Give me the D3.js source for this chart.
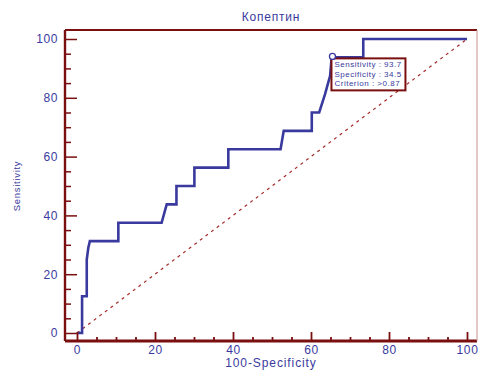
<!DOCTYPE html>
<html>
<head>
<meta charset="utf-8">
<script src="https://cdn.jsdelivr.net/npm/d3@7"></script>
<style>
  body { margin: 0; background: #fff; }
  text { font-family: "Liberation Sans", Arial, sans-serif; }
</style>
</head>
<body>
<div id="wrapper"></div>
<script>
// ROC curve points (100-Specificity, Sensitivity)
const rocX = [0, 1.3, 1.3, 2.5, 2.5, 2.9, 3.3, 10.6, 10.6, 21.7, 23.0, 25.5, 25.5, 30.1, 30.1, 38.8, 38.8, 52.2, 53.0, 60.2, 60.2, 62.1, 63.6, 64.9, 65.3, 65.5, 73.4, 73.4, 100]
const rocY = [0, 0, 12.5, 12.5, 25, 29, 31.25, 31.25, 37.5, 37.5, 43.75, 43.75, 50, 50, 56.25, 56.25, 62.5, 62.5, 68.75, 68.75, 75, 75, 81.25, 87.5, 93.75, 93.75, 93.75, 100, 100]
const majorTicks = [0, 20, 40, 60, 80, 100]
const minorTicks = d3.range(0, 101, 5).filter(v => v % 20 !== 0)
const cutPoint = [65.5, 93.75]
const boxLines = ["Sensitivity : 93.7", "Specificity : 34.5", "Criterion : >0.87"]
const title = "Копептин"
const xTitle = "100-Specificity"
const yTitle = "Sensitivity"

const width = 479
const height = 370
const axisColor = "#7a0f0f"
const blue = "#3a3a9e"

const frame = { left: 65, top: 30, right: 477, bottom: 341 }

const svg = d3.select("#wrapper")
    .append("svg")
    .attr("width", width)
    .attr("height", height)

const xScaler = d3.scaleLinear().domain([0, 100]).range([77, 467])
const yScaler = d3.scaleLinear().domain([0, 100]).range([333, 39])

// diagonal reference line
svg.append("line")
    .attr("x1", xScaler(0)).attr("y1", yScaler(0))
    .attr("x2", xScaler(100)).attr("y2", yScaler(100))
    .attr("stroke", "#a52a2a")
    .attr("stroke-width", 1.2)
    .attr("stroke-dasharray", "3 4")

// ROC curve
const points = rocX.map((d, i) => [d, rocY[i]])
const lineGen = d3.line()
    .x(d => xScaler(d[0]))
    .y(d => yScaler(d[1]))
svg.append("path")
    .datum(points)
    .attr("d", lineGen)
    .attr("fill", "none")
    .attr("stroke", blue)
    .attr("stroke-width", 2.6)

// y ticks (inward from left frame)
function yTicks(values, size) {
    const g = svg.append("g")
        .attr("transform", `translate(${frame.left},0)`)
        .call(d3.axisRight(yScaler).tickValues(values).tickSize(size).tickFormat(""))
    g.select(".domain").remove()
    g.selectAll("line").attr("stroke", axisColor).attr("stroke-width", 1.5)
}
yTicks(majorTicks, 12)
yTicks(minorTicks, 6)

const yLabels = svg.append("g")
    .attr("transform", `translate(${frame.left},0)`)
    .call(d3.axisLeft(yScaler).tickValues(majorTicks).tickSize(0).tickPadding(7))
yLabels.select(".domain").remove()
yLabels.selectAll("text")
    .attr("fill", blue)
    .style("font-size", "12px")
    .style("letter-spacing", "0.6px")
    .style("font-family", "'Liberation Sans', Arial, sans-serif")

// x ticks (upward from bottom frame)
function xTicks(values, size) {
    const g = svg.append("g")
        .attr("transform", `translate(0,${frame.bottom})`)
        .call(d3.axisTop(xScaler).tickValues(values).tickSize(size).tickFormat(""))
    g.select(".domain").remove()
    g.selectAll("line").attr("stroke", axisColor).attr("stroke-width", 1.8)
}
xTicks(majorTicks, 9)
xTicks(minorTicks, 4)

const xLabels = svg.append("g")
    .attr("transform", `translate(0,${frame.bottom})`)
    .call(d3.axisBottom(xScaler).tickValues(majorTicks).tickSize(0).tickPadding(4))
xLabels.select(".domain").remove()
xLabels.selectAll("text")
    .attr("fill", blue)
    .style("font-size", "12px")
    .style("letter-spacing", "0.6px")
    .style("font-family", "'Liberation Sans', Arial, sans-serif")

// frame
svg.append("line")
    .attr("x1", frame.left).attr("x2", frame.right)
    .attr("y1", frame.top).attr("y2", frame.top)
    .attr("stroke", axisColor).attr("stroke-width", 2)
svg.append("line")
    .attr("x1", frame.left).attr("x2", frame.left)
    .attr("y1", frame.top).attr("y2", frame.bottom)
    .attr("stroke", axisColor).attr("stroke-width", 2.4)
svg.append("line")
    .attr("x1", frame.left).attr("x2", frame.right)
    .attr("y1", frame.bottom).attr("y2", frame.bottom)
    .attr("stroke", axisColor).attr("stroke-width", 3)
svg.append("line")
    .attr("x1", frame.right).attr("x2", frame.right)
    .attr("y1", frame.top).attr("y2", frame.bottom)
    .attr("stroke", "#c99090").attr("stroke-width", 1)

// cut-off marker and box
const cx = xScaler(cutPoint[0])
const cy = yScaler(cutPoint[1])
svg.append("rect")
    .attr("x", cx - 1)
    .attr("y", cy + 1)
    .attr("width", 74)
    .attr("height", 32)
    .attr("fill", "#fff")
    .attr("stroke", axisColor)
    .attr("stroke-width", 2)
svg.append("circle")
    .attr("cx", cx)
    .attr("cy", cy - 1)
    .attr("r", 3)
    .attr("fill", "#fff")
    .attr("stroke", blue)
    .attr("stroke-width", 1.3)
svg.append("g")
    .selectAll("text")
    .data(boxLines)
    .join("text")
    .attr("x", cx + 2)
    .attr("y", (d, i) => cy + 10 + i * 9.5)
    .text(d => d)
    .attr("fill", blue)
    .attr("font-size", "8px")
    .attr("letter-spacing", "0.5px")

// titles
svg.append("text")
    .attr("x", (frame.left + frame.right) / 2)
    .attr("y", 21)
    .attr("text-anchor", "middle")
    .attr("fill", blue)
    .attr("font-size", "12px")
    .attr("letter-spacing", "0.8px")
    .text(title)

svg.append("text")
    .attr("x", (frame.left + frame.right) / 2)
    .attr("y", 367)
    .attr("text-anchor", "middle")
    .attr("fill", blue)
    .attr("font-size", "12px")
    .attr("letter-spacing", "0.9px")
    .text(xTitle)

svg.append("text")
    .attr("transform", `translate(20,186) rotate(-90)`)
    .attr("text-anchor", "middle")
    .attr("fill", blue)
    .attr("font-size", "9.5px")
    .attr("letter-spacing", "0.7px")
    .text(yTitle)
</script>
</body>
</html>
